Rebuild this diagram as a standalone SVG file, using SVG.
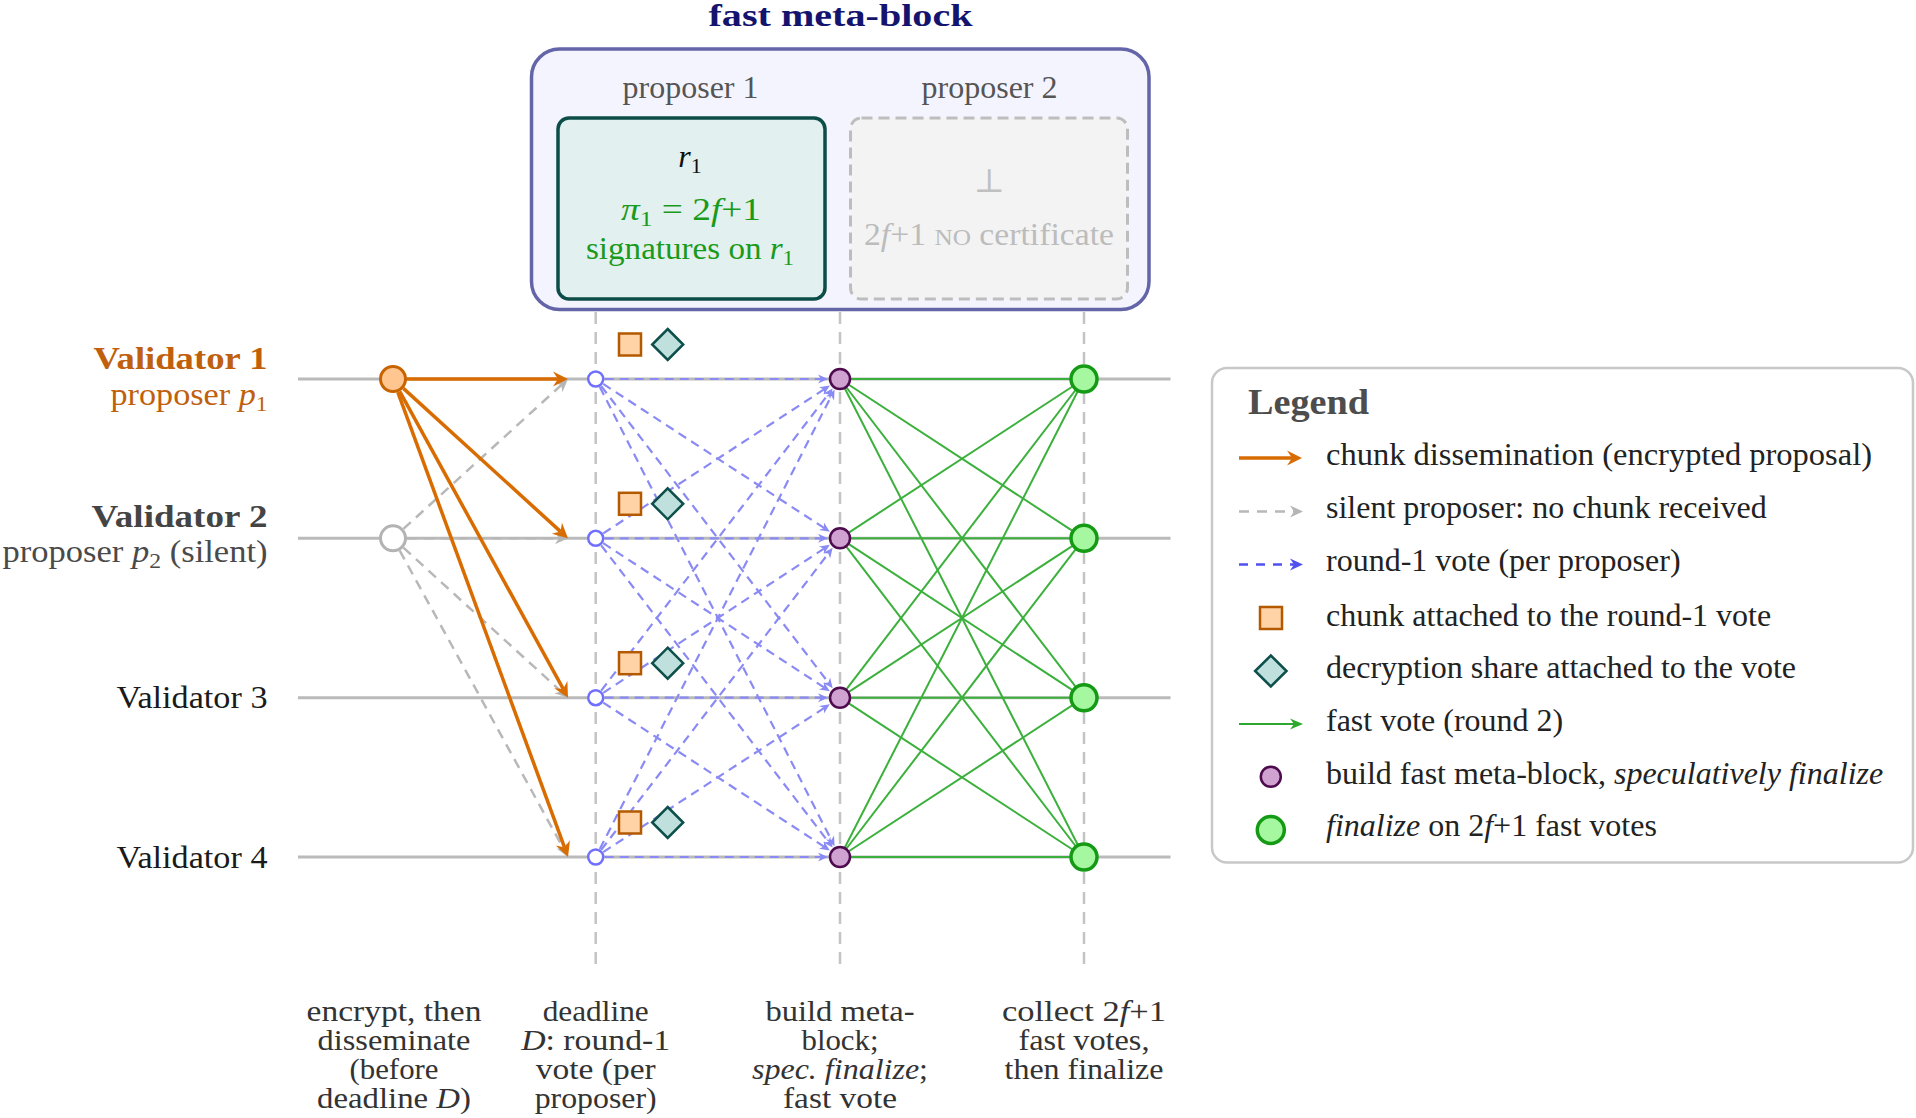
<svg xmlns="http://www.w3.org/2000/svg" width="1916" height="1118" viewBox="0 0 1916 1118">
<defs>
<style>
text{font-family:"Liberation Serif","Times New Roman",serif;font-size:32px;fill:#222}
.it{font-style:italic}
.sub{font-size:22px}
.row{stroke:#bababa;stroke-width:3;fill:none}
.vd{stroke:#c4c4c4;stroke-width:2.5;stroke-dasharray:12 8;fill:none}
.or{stroke:#d96c00;stroke-width:3.5;fill:none;marker-end:url(#arrO)}
.gr{stroke:#b8b8b8;stroke-width:2.5;stroke-dasharray:10 7;fill:none;marker-end:url(#arrG)}
.bl{stroke:#8a8af5;stroke-width:2.2;stroke-dasharray:9 6;fill:none;marker-end:url(#arrB)}
.gn{stroke:#3cb03c;stroke-width:2;fill:none}
.nb{fill:#fff;stroke:#7070ff;stroke-width:2.5}
.np{fill:#cfa2d2;stroke:#4d0a4d;stroke-width:2.5}
.ng{fill:#a6f8a0;stroke:#159a15;stroke-width:3.5}
.sq{fill:#ffd3a6;stroke:#b35900;stroke-width:2.5}
.dm{fill:#bfe0dd;stroke:#0d4f4a;stroke-width:2.5}
.lbl{fill:#333;text-anchor:middle;font-size:28.5px}
</style>
<marker id="arrO" markerUnits="userSpaceOnUse" orient="auto" overflow="visible" markerWidth="20" markerHeight="20" refX="0" refY="0"><path d="M-5,-7.5 L10,0 L-5,7.5 L0,0 z" fill="#d96c00"/></marker>
<marker id="arrG" markerUnits="userSpaceOnUse" orient="auto" overflow="visible" markerWidth="20" markerHeight="20" refX="0" refY="0"><path d="M-4,-6 L9,0 L-4,6 L0,0 z" fill="#b5b5b5"/></marker>
<marker id="arrB" markerUnits="userSpaceOnUse" orient="auto" overflow="visible" markerWidth="20" markerHeight="20" refX="0" refY="0"><path d="M-3,-4.5 L7,0 L-3,4.5 L0,0 z" fill="#8a8af5"/></marker>
<marker id="arrL" markerUnits="userSpaceOnUse" orient="auto" overflow="visible" markerWidth="20" markerHeight="20" refX="0" refY="0"><path d="M-4,-6 L9,0 L-4,6 L0,0 z" fill="#5050f0"/></marker>
<marker id="arrN" markerUnits="userSpaceOnUse" orient="auto" overflow="visible" markerWidth="20" markerHeight="20" refX="0" refY="0"><path d="M-4,-5.5 L9,0 L-4,5.5 L0,0 z" fill="#2ea82e"/></marker>
</defs>

<rect width="1916" height="1118" fill="#fff"/>

<!-- title -->
<g id="title">
<text x="840.5" y="26" text-anchor="middle" font-weight="bold" textLength="264" lengthAdjust="spacingAndGlyphs" style="font-size:32px;fill:#14146e">fast meta-block</text>
</g>

<!-- meta-block -->
<g id="meta-block">
<rect x="531.5" y="49" width="617.5" height="260.5" rx="28" fill="#f4f4fe" stroke="#6464a8" stroke-width="3.5"/>
<text x="690.5" y="97.5" text-anchor="middle" style="fill:#555">proposer 1</text>
<text x="989.5" y="97.5" text-anchor="middle" style="fill:#555">proposer 2</text>
</g>
<g id="proposer1-box">
<rect x="558" y="118" width="267" height="181" rx="11" fill="#e2f0ef" stroke="#0d4d48" stroke-width="3.5"/>
<text x="690" y="166.5" text-anchor="middle"><tspan class="it" style="fill:#111">r</tspan><tspan class="sub" dy="6" style="fill:#111">1</tspan></text>
<text x="691" y="220" text-anchor="middle" textLength="140" lengthAdjust="spacingAndGlyphs" style="fill:#1a9a1a"><tspan class="it">π</tspan><tspan class="sub" dy="6">1</tspan><tspan dy="-6"> = 2</tspan><tspan class="it">f</tspan><tspan>+1</tspan></text>
<text x="690" y="259" text-anchor="middle" textLength="208" lengthAdjust="spacingAndGlyphs" style="fill:#1a9a1a">signatures on <tspan class="it">r</tspan><tspan class="sub" dy="6">1</tspan></text>
</g>
<g id="proposer2-box">
<rect x="850.5" y="118" width="277" height="181" rx="11" fill="#f3f3f3" stroke="#bdbdbd" stroke-width="3" stroke-dasharray="11 6"/>
<text x="989" y="192" text-anchor="middle" style="font-family:'DejaVu Serif',serif;font-size:33px;fill:#c0c0c0">⊥</text>
<text x="989" y="245" text-anchor="middle" textLength="250" lengthAdjust="spacingAndGlyphs" style="fill:#bcbcbc">2<tspan class="it">f</tspan>+1 <tspan style="font-size:24px">NO</tspan> certificate</text>
</g>

<!-- timelines -->
<g id="timelines">
<line class="row" x1="298" y1="379" x2="1170.5" y2="379"/>
<line class="row" x1="298" y1="538.3" x2="1170.5" y2="538.3"/>
<line class="row" x1="298" y1="697.7" x2="1170.5" y2="697.7"/>
<line class="row" x1="298" y1="857" x2="1170.5" y2="857"/>
<line class="vd" x1="595.7" y1="312" x2="595.7" y2="970"/>
<line class="vd" x1="840" y1="312" x2="840" y2="970"/>
<line class="vd" x1="1084" y1="312" x2="1084" y2="970"/>
</g>

<!-- validator labels -->
<g id="validator1-label">
<text x="267.5" y="368.5" text-anchor="end" font-weight="bold" textLength="174" lengthAdjust="spacingAndGlyphs" style="fill:#c0600c">Validator 1</text>
<text x="267.5" y="405" text-anchor="end" textLength="157" lengthAdjust="spacingAndGlyphs" style="fill:#c0600c">proposer <tspan class="it">p</tspan><tspan class="sub" dy="6">1</tspan></text>
</g>
<g id="validator2-label">
<text x="267.5" y="527" text-anchor="end" font-weight="bold" textLength="176" lengthAdjust="spacingAndGlyphs" style="fill:#444">Validator 2</text>
<text x="267.5" y="562" text-anchor="end" textLength="265" lengthAdjust="spacingAndGlyphs" style="fill:#4a4a4a">proposer <tspan class="it">p</tspan><tspan class="sub" dy="6">2</tspan><tspan dy="-6"> (silent)</tspan></text>
</g>
<g id="validator3-label">
<text x="267.5" y="708" text-anchor="end" textLength="151" lengthAdjust="spacingAndGlyphs" style="fill:#1a1a1a">Validator 3</text>
</g>
<g id="validator4-label">
<text x="267.5" y="867.5" text-anchor="end" textLength="151" lengthAdjust="spacingAndGlyphs" style="fill:#1a1a1a">Validator 4</text>
</g>

<!-- connectors -->
<g id="connectors">
<!-- silent proposer (gray dashed) -->
<line class="gr" x1="403.4" y1="528.9" x2="561.3" y2="385.1"/>
<line class="gr" x1="407" y1="538.3" x2="559" y2="538.3"/>
<line class="gr" x1="403.4" y1="547.7" x2="561.3" y2="691.6"/>
<line class="gr" x1="399.7" y1="550.6" x2="563.7" y2="849.1"/>
<!-- chunk dissemination (orange) -->
<line class="or" x1="407" y1="379" x2="558" y2="379"/>
<line class="or" x1="403.4" y1="388.4" x2="560.6" y2="531.6"/>
<line class="or" x1="399.7" y1="391.3" x2="563.2" y2="688.9"/>
<line class="or" x1="397.8" y1="392.1" x2="564.6" y2="847.6"/>
<!-- round-1 votes (blue dashed) -->
<line class="bl" x1="604.7" y1="379" x2="821" y2="379"/>
<line class="bl" x1="603.2" y1="383.9" x2="824" y2="527.9"/>
<line class="bl" x1="601.2" y1="386.1" x2="828.4" y2="682.6"/>
<line class="bl" x1="599.8" y1="387" x2="831.4" y2="840.1"/>
<line class="bl" x1="603.2" y1="533.4" x2="824" y2="389.4"/>
<line class="bl" x1="604.7" y1="538.3" x2="821" y2="538.3"/>
<line class="bl" x1="603.2" y1="543.2" x2="824" y2="687.3"/>
<line class="bl" x1="601.2" y1="545.4" x2="828.4" y2="841.9"/>
<line class="bl" x1="601.2" y1="690.6" x2="828.4" y2="394.1"/>
<line class="bl" x1="603.2" y1="692.8" x2="824" y2="548.7"/>
<line class="bl" x1="604.7" y1="697.7" x2="821" y2="697.7"/>
<line class="bl" x1="603.2" y1="702.6" x2="824" y2="846.6"/>
<line class="bl" x1="599.8" y1="849" x2="831.4" y2="395.9"/>
<line class="bl" x1="601.2" y1="849.9" x2="828.4" y2="553.4"/>
<line class="bl" x1="603.2" y1="852.1" x2="824" y2="708.1"/>
<line class="bl" x1="604.7" y1="857" x2="821" y2="857"/>
<!-- fast votes (green) -->
<line class="gn" x1="840" y1="379" x2="1084" y2="379"/>
<line class="gn" x1="840" y1="379" x2="1084" y2="538.3"/>
<line class="gn" x1="840" y1="379" x2="1084" y2="697.7"/>
<line class="gn" x1="840" y1="379" x2="1084" y2="857"/>
<line class="gn" x1="840" y1="538.3" x2="1084" y2="379"/>
<line class="gn" x1="840" y1="538.3" x2="1084" y2="538.3"/>
<line class="gn" x1="840" y1="538.3" x2="1084" y2="697.7"/>
<line class="gn" x1="840" y1="538.3" x2="1084" y2="857"/>
<line class="gn" x1="840" y1="697.7" x2="1084" y2="379"/>
<line class="gn" x1="840" y1="697.7" x2="1084" y2="538.3"/>
<line class="gn" x1="840" y1="697.7" x2="1084" y2="697.7"/>
<line class="gn" x1="840" y1="697.7" x2="1084" y2="857"/>
<line class="gn" x1="840" y1="857" x2="1084" y2="379"/>
<line class="gn" x1="840" y1="857" x2="1084" y2="538.3"/>
<line class="gn" x1="840" y1="857" x2="1084" y2="697.7"/>
<line class="gn" x1="840" y1="857" x2="1084" y2="857"/>
</g>

<!-- nodes -->
<g id="v1-start"><circle cx="393" cy="379" r="12.5" fill="#ffc690" stroke="#c86400" stroke-width="3"/></g>
<g id="v2-start"><circle cx="393" cy="538.3" r="12.5" fill="#fff" stroke="#b3b3b3" stroke-width="3"/></g>

<g id="v1-vote"><circle class="nb" cx="595.7" cy="379" r="7.5"/><rect class="sq" x="619" y="333.5" width="22" height="22"/><path class="dm" d="M667.7,329 L683.2,344.5 L667.7,360 L652.2,344.5 z"/></g>
<g id="v2-vote"><circle class="nb" cx="595.7" cy="538.3" r="7.5"/><rect class="sq" x="619" y="492.8" width="22" height="22"/><path class="dm" d="M667.7,488.3 L683.2,503.8 L667.7,519.3 L652.2,503.8 z"/></g>
<g id="v3-vote"><circle class="nb" cx="595.7" cy="697.7" r="7.5"/><rect class="sq" x="619" y="652.2" width="22" height="22"/><path class="dm" d="M667.7,647.7 L683.2,663.2 L667.7,678.7 L652.2,663.2 z"/></g>
<g id="v4-vote"><circle class="nb" cx="595.7" cy="857" r="7.5"/><rect class="sq" x="619" y="811.5" width="22" height="22"/><path class="dm" d="M667.7,807 L683.2,822.5 L667.7,838 L652.2,822.5 z"/></g>

<g id="v1-meta"><circle class="np" cx="840" cy="379" r="10"/></g>
<g id="v2-meta"><circle class="np" cx="840" cy="538.3" r="10"/></g>
<g id="v3-meta"><circle class="np" cx="840" cy="697.7" r="10"/></g>
<g id="v4-meta"><circle class="np" cx="840" cy="857" r="10"/></g>

<g id="v1-final"><circle class="ng" cx="1084" cy="379" r="13"/></g>
<g id="v2-final"><circle class="ng" cx="1084" cy="538.3" r="13"/></g>
<g id="v3-final"><circle class="ng" cx="1084" cy="697.7" r="13"/></g>
<g id="v4-final"><circle class="ng" cx="1084" cy="857" r="13"/></g>

<!-- bottom labels -->
<g id="step-labels">
<text class="lbl" x="394" y="1021" textLength="175" lengthAdjust="spacingAndGlyphs">encrypt, then</text>
<text class="lbl" x="394" y="1050" textLength="153" lengthAdjust="spacingAndGlyphs">disseminate</text>
<text class="lbl" x="394" y="1079" textLength="89" lengthAdjust="spacingAndGlyphs">(before</text>
<text class="lbl" x="394" y="1108" textLength="154" lengthAdjust="spacingAndGlyphs">deadline <tspan class="it">D</tspan>)</text>
<text class="lbl" x="595.7" y="1021" textLength="106" lengthAdjust="spacingAndGlyphs">deadline</text>
<text class="lbl" x="595.7" y="1050" textLength="149" lengthAdjust="spacingAndGlyphs"><tspan class="it">D</tspan>: round-1</text>
<text class="lbl" x="595.7" y="1079" textLength="120" lengthAdjust="spacingAndGlyphs">vote (per</text>
<text class="lbl" x="595.7" y="1108" textLength="122" lengthAdjust="spacingAndGlyphs">proposer)</text>
<text class="lbl" x="840" y="1021" textLength="149" lengthAdjust="spacingAndGlyphs">build meta-</text>
<text class="lbl" x="840" y="1050" textLength="77" lengthAdjust="spacingAndGlyphs">block;</text>
<text class="lbl" x="840" y="1079" textLength="176" lengthAdjust="spacingAndGlyphs"><tspan class="it">spec. finalize</tspan>;</text>
<text class="lbl" x="840" y="1108" textLength="114" lengthAdjust="spacingAndGlyphs">fast vote</text>
<text class="lbl" x="1084" y="1021" textLength="164" lengthAdjust="spacingAndGlyphs">collect 2<tspan class="it">f</tspan>+1</text>
<text class="lbl" x="1084" y="1050" textLength="131" lengthAdjust="spacingAndGlyphs">fast votes,</text>
<text class="lbl" x="1084" y="1079" textLength="159" lengthAdjust="spacingAndGlyphs">then finalize</text>
</g>

<!-- legend -->
<g id="legend">
<rect x="1212" y="368" width="701" height="494.5" rx="15" fill="#fff" stroke="#c8c8c8" stroke-width="2.5"/>
<text x="1248" y="413.5" font-weight="bold" textLength="121" lengthAdjust="spacingAndGlyphs" style="font-size:36px;fill:#4d4d4d">Legend</text>
<line x1="1239" y1="458" x2="1292" y2="458" stroke="#d96c00" stroke-width="3.5" marker-end="url(#arrO)"/>
<text x="1326" y="464.5" textLength="546" lengthAdjust="spacingAndGlyphs">chunk dissemination (encrypted proposal)</text>
<line x1="1239" y1="511.5" x2="1294" y2="511.5" stroke="#b8b8b8" stroke-width="2.5" stroke-dasharray="10 8" marker-end="url(#arrG)"/>
<text x="1326" y="517.5">silent proposer: no chunk received</text>
<line x1="1239" y1="564.5" x2="1294" y2="564.5" stroke="#5050f0" stroke-width="2.5" stroke-dasharray="9 8" marker-end="url(#arrL)"/>
<text x="1326" y="570.5">round-1 vote (per proposer)</text>
<rect class="sq" x="1260" y="607" width="22" height="22"/>
<text x="1326" y="626">chunk attached to the round-1 vote</text>
<path class="dm" d="M1270.8,655.5 L1286.5,671 L1270.8,686.5 L1255.1,671 z"/>
<text x="1326" y="677.5">decryption share attached to the vote</text>
<line x1="1239" y1="724" x2="1294" y2="724" stroke="#2ea82e" stroke-width="2" marker-end="url(#arrN)"/>
<text x="1326" y="730.5">fast vote (round 2)</text>
<circle class="np" cx="1270.8" cy="776.7" r="10"/>
<text x="1326" y="783.5">build fast meta-block, <tspan class="it">speculatively finalize</tspan></text>
<circle class="ng" cx="1270.8" cy="830" r="13.5"/>
<text x="1326" y="836"><tspan class="it">finalize</tspan> on 2<tspan class="it">f</tspan>+1 fast votes</text>
</g>
</svg>
